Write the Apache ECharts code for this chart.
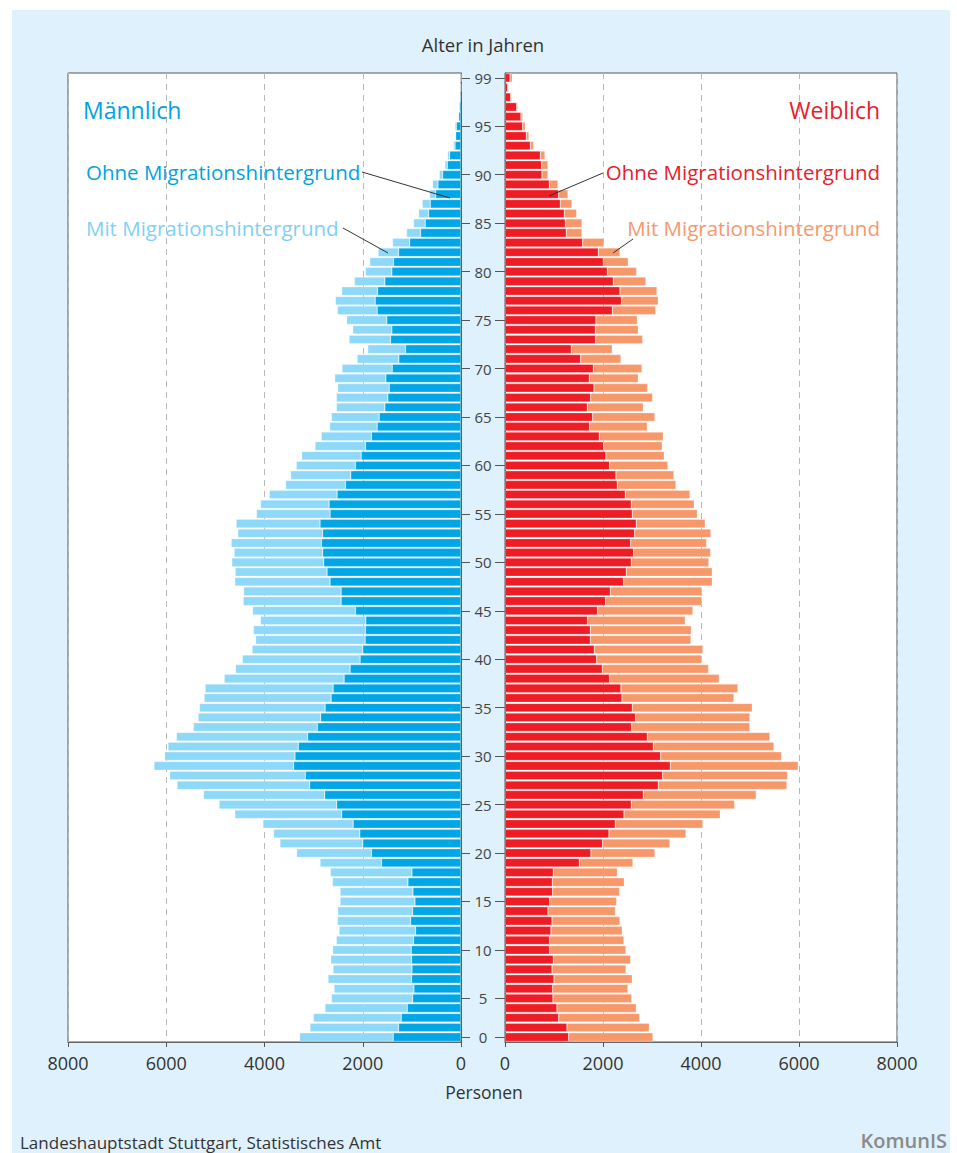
<!DOCTYPE html>
<html>
<head>
<meta charset="utf-8">
<script src="https://cdn.jsdelivr.net/npm/echarts@6/dist/echarts.min.js"></script>
<style>
  html, body { margin: 0; padding: 0; background: #ffffff; }
  #bg { position: absolute; left: 12px; top: 10px; width: 938px; height: 1143px; background: #dff1fc; }
  #chart { position: absolute; left: 0; top: 0; width: 957px; height: 1153px; }
</style>
</head>
<body>
<div id="bg"></div>
<div id="chart"></div>
<script>
// Index 0 = bottom bar, index 99 = top bar
const maleOhne = [1380,1272,1217,1095,986,959,1006,999,1006,1013,966,925,1027,986,938,979,1081,999,1618,1822,
  1999,2060,2196,2428,2530,2774,3080,3169,3407,3380,3312,3121,2924,2856,2767,2645,2604,2380,2258,2054,
  1999,1952,1945,1938,2149,2441,2441,2666,2727,2795,2815,2842,2815,2870,2666,2686,2523,2353,2244,2149,
  2033,1945,1823,1707,1666,1550,1489,1462,1530,1401,1265,1129,1435,1408,1510,1707,1748,1700,1550,1408,
  1374,1272,1047,823,728,660,626,517,469,374,279,231,122,109,95,45,34,20,5,0];
const maleMit = [1904,1802,1788,1673,1652,1625,1700,1605,1645,1598,1571,1557,1489,1523,1523,1482,1537,1659,1251,1523,
  1686,1754,1836,2176,2394,2468,2700,2761,2842,2652,2652,2672,2523,2496,2556,2584,2604,2440,2332,2397,
  2252,2229,2280,2145,2094,1992,1984,1938,1870,1870,1802,1836,1727,1707,1496,1394,1380,1217,1224,1204,
  1210,1027,1020,966,972,986,1047,1047,1040,1020,850,768,843,796,816,809,809,728,619,537,
  483,415,347,286,238,204,163,122,109,68,48,41,34,10,27,15,5,5,0,0];
const femaleOhne = [1299,1265,1095,1061,979,972,1000,959,986,911,911,938,959,877,911,972,966,986,1516,1754,
  1992,2122,2251,2428,2577,2822,3128,3216,3373,3176,3026,2904,2584,2666,2598,2387,2366,2135,1986,1870,
  1822,1741,1741,1686,1890,2054,2149,2421,2475,2577,2625,2564,2645,2679,2598,2577,2455,2292,2264,2135,
  2060,2013,1924,1727,1788,1680,1748,1816,1720,1802,1544,1353,1850,1843,1856,2190,2380,2346,2210,2088,
  2006,1904,1584,1251,1231,1210,1129,1095,904,755,748,721,517,435,360,326,238,116,54,102];
const femaleMit = [1720,1680,1652,1618,1605,1537,1598,1510,1578,1557,1516,1455,1387,1374,1367,1367,1469,1306,1095,1306,
  1374,1571,1788,1965,2108,2305,2625,2550,2611,2468,2462,2502,2414,2332,2448,2285,2387,2237,2169,2142,
  2217,2054,2060,1992,1945,1965,1870,1809,1754,1584,1571,1550,1557,1408,1326,1285,1319,1197,1183,1190,
  1190,1197,1306,1176,1272,1142,1265,1095,1000,993,823,836,959,877,843,884,748,755,666,598,
  510,442,435,320,340,252,238,190,177,122,129,95,68,54,54,34,20,20,14,48];

// Age tick labels: bar index -> label text (as placed in the original)
const tickIndex = [0,4,9,14,19,24,29,34,39,44,49,54,59,64,69,74,79,84,89,94,99];
const tickText  = ['0','5','10','15','20','25','30','35','40','45','50','55','60','65','70','75','80','85','90','95','99'];
const xTicks = { min: 0, max: 8000, interval: 2000 };

const categories = maleOhne.map((_, i) => String(i));
const labelMap = {};
tickIndex.forEach((ix, j) => { labelMap[ix] = tickText[j]; });
const showTick = (index) => Object.prototype.hasOwnProperty.call(labelMap, index);

const FONT = "'Open Sans', 'Noto Sans', sans-serif";
const C = { mDark: '#00a6e6', mLight: '#8ed8f8', fDark: '#ee1c25', fLight: '#f7986b' };

const chart = echarts.init(document.getElementById('chart'), null, { renderer: 'svg' });

const gridTop = 73, gridH = 969;
const xAxisCommon = (inverse) => ({
  type: 'value', min: xTicks.min, max: xTicks.max, interval: xTicks.interval, inverse: inverse,
  position: 'bottom',
  axisLine: { show: true, lineStyle: { color: '#666', width: 1 } },
  axisTick: { show: true, inside: false, length: 5, lineStyle: { color: '#555' } },
  axisLabel: { color: '#333', fontSize: 18, fontFamily: FONT, margin: 12, formatter: (v) => String(v) },
  splitLine: { show: true, lineStyle: { color: '#b8b8b8', type: [6, 5], width: 1 } }
});

const barBase = { type: 'bar', barCategoryGap: '11%', silent: true,
  itemStyle: { borderColor: 'rgba(255,255,255,0.55)', borderWidth: 0.5 } };

chart.setOption({
  animation: false,
  grid: [
    { left: 68, top: gridTop, width: 393, height: gridH, show: true, backgroundColor: '#ffffff', borderColor: '#555', borderWidth: 1 },
    { left: 505, top: gridTop, width: 392, height: gridH, show: true, backgroundColor: '#ffffff', borderColor: '#555', borderWidth: 1 }
  ],
  xAxis: [
    Object.assign({ gridIndex: 0 }, xAxisCommon(true)),
    Object.assign({ gridIndex: 1 }, xAxisCommon(false))
  ],
  yAxis: [
    { type: 'category', gridIndex: 0, data: categories, position: 'right',
      axisLine: { show: true, lineStyle: { color: '#555' } },
      axisTick: { show: true, alignWithLabel: true, inside: false, length: 9, interval: (i) => showTick(i), lineStyle: { color: '#555' } },
      axisLabel: { show: false } },
    { type: 'category', gridIndex: 1, data: categories, position: 'left',
      axisLine: { show: true, lineStyle: { color: '#555' } },
      axisTick: { show: true, alignWithLabel: true, inside: false, length: 10, interval: (i) => showTick(i), lineStyle: { color: '#555' } },
      axisLabel: { show: true, interval: (i) => showTick(i), formatter: (v, i) => labelMap[i] || '',
        align: 'center', margin: 22, color: '#444', fontSize: 15, fontFamily: FONT } }
  ],
  series: [
    Object.assign({}, barBase, { name: 'Männlich ohne', xAxisIndex: 0, yAxisIndex: 0, stack: 'm', data: maleOhne,
      itemStyle: Object.assign({}, barBase.itemStyle, { color: C.mDark }) }),
    Object.assign({}, barBase, { name: 'Männlich mit', xAxisIndex: 0, yAxisIndex: 0, stack: 'm', data: maleMit,
      itemStyle: Object.assign({}, barBase.itemStyle, { color: C.mLight }) }),
    Object.assign({}, barBase, { name: 'Weiblich ohne', xAxisIndex: 1, yAxisIndex: 1, stack: 'f', data: femaleOhne,
      itemStyle: Object.assign({}, barBase.itemStyle, { color: C.fDark }) }),
    Object.assign({}, barBase, { name: 'Weiblich mit', xAxisIndex: 1, yAxisIndex: 1, stack: 'f', data: femaleMit,
      itemStyle: Object.assign({}, barBase.itemStyle, { color: C.fLight }) })
  ],
  graphic: [
    { type: 'text', z: 100, style: { text: 'Alter in Jahren', x: 483, y: 44, textAlign: 'center', textVerticalAlign: 'middle', align: 'center', verticalAlign: 'middle', font: "18.5px " + FONT, fill: '#333' } },
    { type: 'text', z: 100, style: { text: 'Personen', x: 484, y: 1092, textAlign: 'center', textVerticalAlign: 'middle', align: 'center', verticalAlign: 'middle', font: "17.5px " + FONT, fill: '#333' } },
    { type: 'text', z: 100, style: { text: 'Männlich', x: 83, y: 110, textAlign: 'left', textVerticalAlign: 'middle', align: 'left', verticalAlign: 'middle', font: "23px " + FONT, fill: '#00a3e0' } },
    { type: 'text', z: 100, style: { text: 'Weiblich', x: 880, y: 110, textAlign: 'right', textVerticalAlign: 'middle', align: 'right', verticalAlign: 'middle', font: "23px " + FONT, fill: '#e8202a' } },
    { type: 'text', z: 100, style: { text: 'Ohne Migrationshintergrund', x: 86, y: 172, textAlign: 'left', textVerticalAlign: 'middle', align: 'left', verticalAlign: 'middle', font: "500 20.5px " + FONT, fill: '#00a3e0' } },
    { type: 'text', z: 100, style: { text: 'Mit Migrationshintergrund', x: 86, y: 228, textAlign: 'left', textVerticalAlign: 'middle', align: 'left', verticalAlign: 'middle', font: "20.5px " + FONT, fill: '#7fd0f5' } },
    { type: 'text', z: 100, style: { text: 'Ohne Migrationshintergrund', x: 880, y: 172, textAlign: 'right', textVerticalAlign: 'middle', align: 'right', verticalAlign: 'middle', font: "500 20.5px " + FONT, fill: '#e8202a' } },
    { type: 'text', z: 100, style: { text: 'Mit Migrationshintergrund', x: 880, y: 228, textAlign: 'right', textVerticalAlign: 'middle', align: 'right', verticalAlign: 'middle', font: "20.5px " + FONT, fill: '#f7986b' } },
    { type: 'line', z: 100, shape: { x1: 362, y1: 172, x2: 450, y2: 198 }, style: { stroke: '#333', lineWidth: 1 } },
    { type: 'line', z: 100, shape: { x1: 343, y1: 228, x2: 388, y2: 253 }, style: { stroke: '#333', lineWidth: 1 } },
    { type: 'line', z: 100, shape: { x1: 603, y1: 173, x2: 549, y2: 196 }, style: { stroke: '#333', lineWidth: 1 } },
    { type: 'line', z: 100, shape: { x1: 633, y1: 239, x2: 613, y2: 253 }, style: { stroke: '#333', lineWidth: 1 } },
    { type: 'text', z: 100, style: { text: 'Landeshauptstadt Stuttgart, Statistisches Amt', x: 20, y: 1142, textAlign: 'left', textVerticalAlign: 'middle', align: 'left', verticalAlign: 'middle', font: "17px " + FONT, fill: '#333' } },
    { type: 'text', z: 100, style: { text: 'KomunIS', x: 947, y: 1140, textAlign: 'right', textVerticalAlign: 'middle', align: 'right', verticalAlign: 'middle', font: "600 20px " + FONT, fill: '#8a8a8a' } }
  ]
});
</script>
</body>
</html>
